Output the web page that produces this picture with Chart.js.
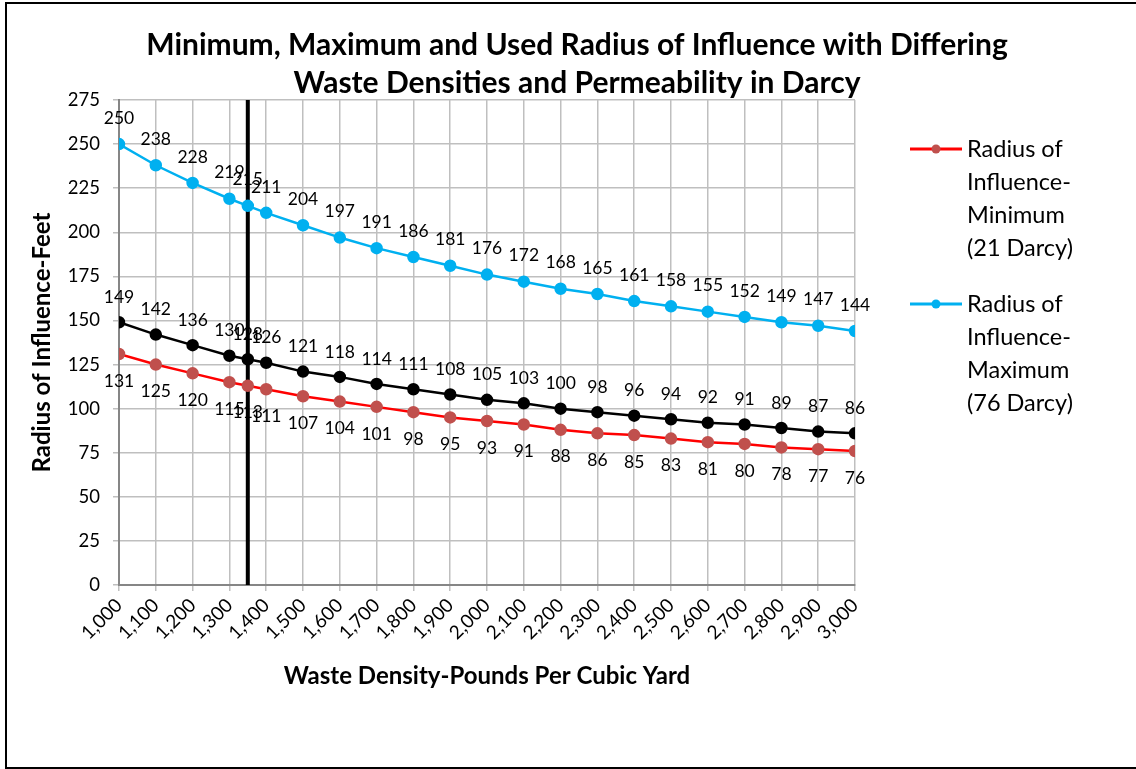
<!DOCTYPE html>
<html><head><meta charset="utf-8">
<script src="https://cdn.jsdelivr.net/npm/chart.js@4.4.1/dist/chart.umd.min.js"></script>
<style>
html,body{margin:0;padding:0;background:#fff;overflow:hidden;}
#wrap{position:relative;width:1136px;height:769px;}
#frame{position:absolute;left:5px;top:2px;width:1200px;height:767px;border:2px solid #000;box-sizing:border-box;pointer-events:none;}
canvas{position:absolute;left:0;top:0;}
</style>
</head><body>
<div id="wrap"><canvas id="c" width="1136" height="769"></canvas><div id="frame"></div></div>
<script>
// ---- data ----
const titleLines = ["Minimum, Maximum and Used Radius of Influence with Differing", "Waste Densities and Permeability in Darcy"];
const xAxisTitle = "Waste Density-Pounds Per Cubic Yard";
const yAxisTitle = "Radius of Influence-Feet";
const densities = [1000,1100,1200,1300,1350,1400,1500,1600,1700,1800,1900,2000,2100,2200,2300,2400,2500,2600,2700,2800,2900,3000];
const radiusMin = [131,125,120,115,113,111,107,104,101,98,95,93,91,88,86,85,83,81,80,78,77,76];
const radiusUsed = [149,142,136,130,128,126,121,118,114,111,108,105,103,100,98,96,94,92,91,89,87,86];
const radiusMax = [250,238,228,219,215,211,204,197,191,186,181,176,172,168,165,161,158,155,152,149,147,144];
const usedLineX = [1350,1350];
const usedLineY = [0,275];
const legendMin = ["Radius of","Influence-","Minimum","(21 Darcy)"];
const legendMax = ["Radius of","Influence-","Maximum","(76 Darcy)"];
const xTickMin = 1000, xTickMax = 3000, xTickStep = 100;
const yTickMin = 0, yTickMax = 275, yTickStep = 25;

const pts = (xs, ys) => xs.map((x,i)=>({x:x, y:ys[i]}));
const FONT = "Lato, 'Open Sans', sans-serif";

const labelPlugin = {
  id:'labels',
  afterDatasetsDraw(chart){
    const ctx = chart.ctx;
    ctx.save();
    ctx.font = "17.5px " + FONT;
    ctx.fillStyle = "#000";
    ctx.textAlign = "center";
    ctx.textBaseline = "middle";
    chart.data.datasets.forEach((ds,di)=>{
      if(!ds.labelOffset) return;
      const meta = chart.getDatasetMeta(di);
      meta.data.forEach((el,i)=>{
        ctx.fillText(String(ds.data[i].y), el.x, el.y + ds.labelOffset);
      });
    });
    ctx.restore();
  },
  afterDraw(chart){
    const ctx = chart.ctx;
    ctx.save();
    // title
    ctx.font = "bold 30px " + FONT;
    ctx.fillStyle = "#000";
    ctx.textAlign = "center";
    ctx.textBaseline = "middle";
    ctx.fillText(titleLines[0], 577, 45);
    ctx.fillText(titleLines[1], 577, 83);
    // legend
    const items = chart.data.datasets.filter(d=>d.legendLines);
    const starts = [149, 304];
    items.forEach((ds,k)=>{
      const y0 = starts[k];
      ctx.strokeStyle = ds.borderColor;
      ctx.lineWidth = 3;
      ctx.beginPath(); ctx.moveTo(910,y0); ctx.lineTo(962,y0); ctx.stroke();
      ctx.fillStyle = ds.pointBackgroundColor;
      ctx.beginPath(); ctx.arc(936,y0,4.5,0,Math.PI*2); ctx.fill();
      ctx.fillStyle = "#000";
      ctx.font = "23.5px " + FONT;
      ctx.textAlign = "left";
      ds.legendLines.forEach((t,j)=>ctx.fillText(t, 967, y0 + j*33));
    });
    ctx.restore();
  }
};

new Chart(document.getElementById('c'), {
  type:'scatter',
  data:{
    datasets:[
      {label:"Radius of Influence-Minimum (21 Darcy)", data:pts(densities,radiusMin), showLine:true,
       borderColor:"#FF0000", backgroundColor:"#C0504D", pointBackgroundColor:"#C0504D", pointBorderColor:"#C0504D",
       pointRadius:5, borderWidth:2.5, labelOffset:27, legendLines:legendMin},
      {label:"Radius of Influence-Used", data:pts(densities,radiusUsed), showLine:true,
       borderColor:"#000000", backgroundColor:"#000000", pointBackgroundColor:"#000000", pointBorderColor:"#000000",
       pointRadius:5, borderWidth:2.5, labelOffset:-25},
      {label:"Radius of Influence-Maximum (76 Darcy)", data:pts(densities,radiusMax), showLine:true,
       borderColor:"#00B0F0", backgroundColor:"#00B0F0", pointBackgroundColor:"#00B0F0", pointBorderColor:"#00B0F0",
       pointRadius:5, borderWidth:2.5, labelOffset:-26, legendLines:legendMax},
      {label:"Used density", data:pts(usedLineX,usedLineY), showLine:true,
       borderColor:"#000000", borderWidth:4, pointRadius:0}
    ]
  },
  options:{
    responsive:false, animation:false, devicePixelRatio:1,
    layout:{padding:{left:0, right:281, top:100, bottom:0}},
    plugins:{legend:{display:false}, title:{display:false}, tooltip:{enabled:false}},
    scales:{
      x:{type:'linear', min:xTickMin, max:xTickMax,
        afterFit(s){ s.height = 184; },
        ticks:{stepSize:xTickStep, autoSkip:false, maxRotation:45, minRotation:45, color:"#000",
          font:{family:FONT, size:19}, padding:3,
          callback:v=>Number(v).toLocaleString('en-US')},
        grid:{color:"#BFBFBF", lineWidth:1.5, tickLength:6},
        border:{color:"#868686", width:2},
        title:{display:true, text:xAxisTitle, color:"#000", font:{family:FONT, size:24, weight:'bold'}, padding:{top:0,bottom:78}}
      },
      y:{min:yTickMin, max:yTickMax,
        afterFit(s){ s.width = 119; },
        ticks:{stepSize:yTickStep, color:"#000", font:{family:FONT, size:18.5}, padding:13},
        grid:{color:"#BFBFBF", lineWidth:1.5, tickLength:6},
        border:{color:"#868686", width:2},
        title:{display:true, text:yAxisTitle, color:"#000", font:{family:FONT, size:24, weight:'bold'}, padding:{top:28,bottom:0}}
      }
    }
  },
  plugins:[labelPlugin]
});
</script>
</body></html>
